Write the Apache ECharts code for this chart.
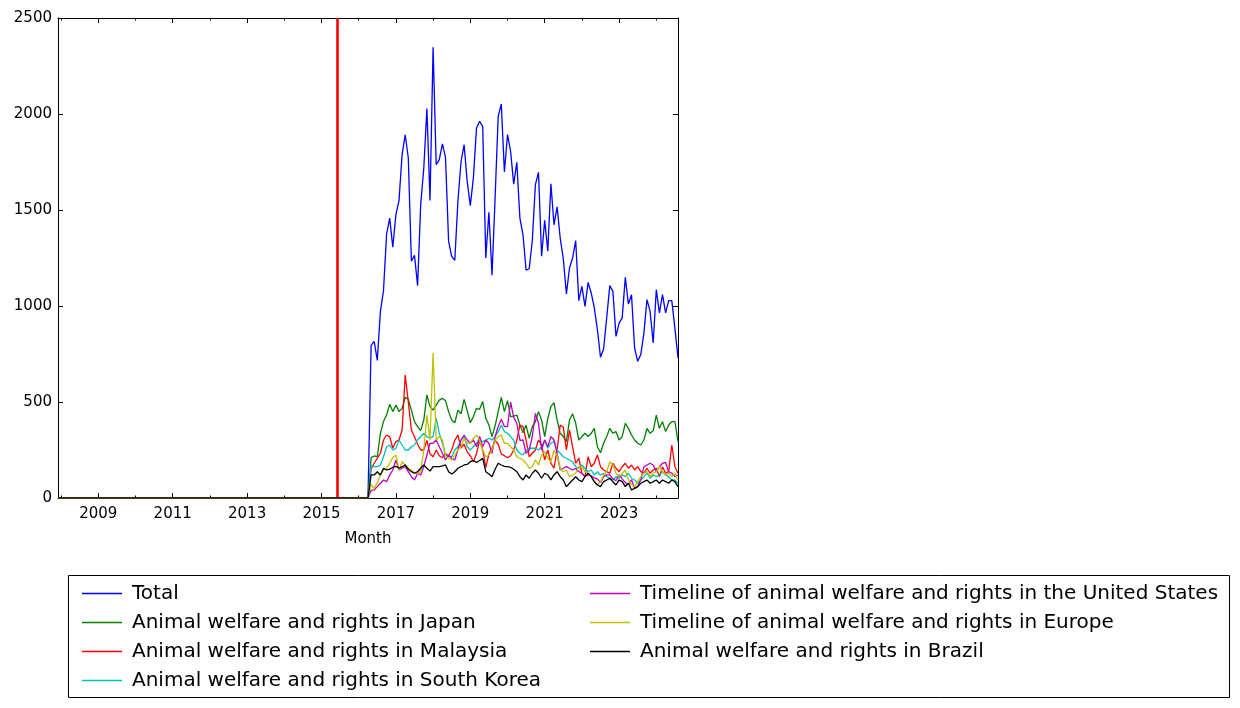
<!DOCTYPE html>
<html>
<head>
<meta charset="utf-8">
<script src="https://cdn.jsdelivr.net/npm/echarts@6/dist/echarts.min.js"></script>
<style>html,body{margin:0;padding:0;background:#fff}#c{width:1240px;height:708px}</style>
</head>
<body>
<div id="c"></div>
<script>
// ---- data (monthly pageviews) ----
const firstMonth = '2016-05';              // first month with non-zero values
const zeroMonths = ['2007-12', '2016-04']; // all series are 0 over this span
const markerMonth = '2015-06';             // red vertical line
const majorYears = [2009, 2011, 2013, 2015, 2017, 2019, 2021, 2023];
const minorYears = [2008, 2010, 2012, 2014, 2016, 2018, 2020, 2022, 2024];
const yTicks = [0, 500, 1000, 1500, 2000, 2500];

const seriesNames = [
  'Total',
  'Animal welfare and rights in Japan',
  'Animal welfare and rights in Malaysia',
  'Animal welfare and rights in South Korea',
  'Timeline of animal welfare and rights in the United States',
  'Timeline of animal welfare and rights in Europe',
  'Animal welfare and rights in Brazil'
];
const seriesColors = ['#0000ff', '#008000', '#ff0000', '#00bfbf', '#bf00bf', '#bfbf00', '#000000'];

const total = [
  795, 816, 717, 972, 1080, 1375, 1458, 1306,
  1476, 1549, 1788, 1892, 1771, 1233, 1264, 1106, 1528, 1719, 2028, 1550,
  2347, 1736, 1762, 1844, 1775, 1337, 1259, 1238, 1545, 1750, 1840, 1649,
  1523, 1667, 1927, 1962, 1936, 1250, 1488, 1160, 1562, 1988, 2052, 1698,
  1892, 1806, 1635, 1748, 1458, 1371, 1186, 1194, 1340, 1632, 1696, 1259,
  1446, 1285, 1637, 1423, 1516, 1354, 1246, 1063, 1198, 1250, 1340, 1028,
  1102, 998, 1123, 1068, 990, 877, 733, 776, 938, 1106, 1076, 842,
  911, 938, 1149, 1010, 1059, 781, 712, 747, 859, 1033, 972, 807,
  1085, 964, 1059, 964, 1028, 1028, 885, 730
];
const japan = [
  210, 219, 215, 337, 398, 432, 488, 450,
  484, 450, 467, 524, 514, 458, 398, 372, 351, 406, 537, 476,
  458, 484, 510, 519, 507, 450, 406, 392, 458, 438, 514, 455,
  392, 424, 467, 462, 502, 415, 380, 320, 375, 450, 524, 450,
  507, 424, 427, 432, 380, 340, 380, 311, 372, 398, 450, 406,
  320, 415, 476, 497, 406, 337, 320, 294, 406, 438, 389, 302,
  320, 337, 320, 337, 363, 267, 236, 285, 320, 363, 337, 346,
  302, 320, 389, 363, 328, 302, 285, 276, 302, 363, 337, 350,
  432, 363, 398, 346, 380, 398, 398, 294
];
const malaysia = [
  150, 181, 207, 233, 302, 328, 320, 259,
  294, 302, 354, 641, 500, 354, 319, 280, 250, 250, 300, 230,
  215, 250, 220, 210, 230, 220, 250, 300, 328, 260, 280, 240,
  220, 190, 230, 300, 250, 160, 230, 260, 300, 280, 230, 220,
  210, 220, 250, 300, 380, 372, 302, 215, 233, 250, 302, 276,
  198, 250, 181, 155, 250, 380, 368, 250, 354, 267, 181, 207,
  129, 111, 215, 163, 181, 224, 163, 146, 137, 129, 181, 155,
  137, 163, 181, 155, 172, 146, 163, 137, 129, 155, 129, 146,
  155, 111, 163, 129, 137, 276, 163, 129
];
const southKorea = [
  170, 163, 163, 172, 215, 267, 276, 250,
  259, 302, 276, 250, 250, 267, 276, 302, 320, 337, 320, 311,
  320, 415, 337, 285, 224, 215, 215, 250, 267, 302, 320, 267,
  250, 267, 285, 302, 294, 302, 311, 302, 320, 346, 380, 346,
  337, 320, 302, 250, 233, 224, 250, 259, 259, 259, 250, 267,
  302, 259, 285, 294, 250, 233, 215, 207, 198, 189, 163, 155,
  172, 155, 137, 146, 120, 137, 120, 129, 111, 103, 94, 111,
  103, 120, 111, 129, 103, 94, 77, 94, 111, 129, 103, 120,
  111, 120, 137, 120, 111, 94, 94, 77
];
const unitedStates = [
  40, 42, 59, 77, 94, 85, 120, 146,
  198, 146, 155, 163, 137, 111, 94, 129, 120, 163, 224, 285,
  285, 302, 267, 233, 198, 224, 207, 198, 250, 302, 328, 302,
  285, 302, 267, 320, 267, 302, 285, 233, 320, 372, 410, 372,
  372, 500, 420, 389, 300, 302, 233, 250, 320, 441, 389, 250,
  302, 267, 320, 302, 233, 146, 155, 163, 155, 146, 155, 137,
  129, 111, 120, 115, 105, 100, 80, 111, 120, 120, 100, 90,
  120, 100, 80, 70, 95, 50, 60, 95, 163, 172, 181, 172,
  137, 163, 181, 185, 137, 129, 111, 120
];
const europe = [
  70, 50, 80, 120, 146, 155, 181, 210,
  224, 146, 189, 172, 155, 146, 129, 129, 137, 250, 432, 302,
  757, 302, 320, 302, 215, 207, 198, 224, 250, 267, 310, 285,
  285, 311, 328, 302, 250, 215, 224, 250, 302, 320, 328, 285,
  285, 267, 250, 215, 207, 198, 181, 155, 163, 198, 172, 224,
  241, 207, 189, 250, 224, 155, 137, 146, 111, 120, 129, 163,
  163, 137, 129, 111, 85, 68, 85, 120, 137, 189, 172, 129,
  111, 129, 146, 94, 68, 59, 85, 111, 129, 137, 111, 129,
  137, 163, 137, 120, 129, 111, 129, 94
];
const brazil = [
  120, 120, 137, 120, 155, 146, 150, 160,
  165, 155, 163, 172, 150, 137, 129, 137, 155, 172, 155, 140,
  163, 163, 163, 167, 172, 137, 125, 137, 155, 163, 172, 175,
  189, 195, 185, 195, 207, 137, 125, 111, 150, 181, 172, 165,
  163, 160, 150, 137, 111, 94, 120, 103, 129, 146, 129, 103,
  129, 120, 94, 120, 137, 111, 94, 59, 77, 94, 111, 94,
  85, 111, 129, 111, 85, 68, 59, 85, 94, 103, 85, 68,
  94, 85, 59, 77, 42, 50, 59, 77, 85, 94, 77, 85,
  94, 77, 94, 85, 77, 94, 85, 59
];
const seriesValues = [total, japan, malaysia, southKorea, unitedStates, europe, brazil];

// ---- helpers ----
function ymToYear(ym) { const p = ym.split('-').map(Number); return p[0] + (p[1] - 1) / 12; }
function monthAt(startYm, i) {
  const p = startYm.split('-').map(Number);
  const k = p[0] * 12 + (p[1] - 1) + i;
  return Math.floor(k / 12) + (k % 12) / 12;
}
function buildData(values) {
  const out = zeroMonths.map(m => [ymToYear(m), 0]);
  values.forEach((v, i) => out.push([monthAt(firstMonth, i), v]));
  return out;
}

const FONT = 'DejaVu Sans';
const xMin = ymToYear(zeroMonths[0]);
const xMax = monthAt(firstMonth, total.length - 1);

function xAxisDef(pos, ticks, len, labels, line) {
  return {
    type: 'value', position: pos, min: xMin, max: xMax, gridIndex: 0,
    axisLine: { show: line, onZero: false, lineStyle: { color: '#000', width: 1 } },
    axisTick: { show: true, inside: true, length: len, customValues: ticks, lineStyle: { color: '#000', width: 1 } },
    axisLabel: labels ? { show: true, customValues: ticks, color: '#000', fontFamily: FONT, fontSize: 15, margin: 9, formatter: v => String(Math.round(v)) } : { show: false },
    splitLine: { show: false }
  };
}
function yAxisDef(pos, labels) {
  return {
    type: 'value', position: pos, min: yTicks[0], max: yTicks[yTicks.length - 1], interval: yTicks[1] - yTicks[0],
    axisLine: { show: true, onZero: false, lineStyle: { color: '#000', width: 1 } },
    axisTick: { show: true, inside: true, length: 5, lineStyle: { color: '#000', width: 1 } },
    axisLabel: labels ? { show: true, color: '#000', fontFamily: FONT, fontSize: 15, margin: 6, formatter: v => String(v) } : { show: false },
    splitLine: { show: false }
  };
}

const xAxes = [
  Object.assign(xAxisDef('bottom', majorYears, 5, true, true), { name: 'Month', nameLocation: 'middle', nameGap: 34, nameTextStyle: { color: '#000', fontFamily: FONT, fontSize: 15 } }),
  xAxisDef('bottom', minorYears, 2.5, false, false),
  xAxisDef('top', majorYears, 5, false, true),
  xAxisDef('top', minorYears, 2.5, false, false)
];

const series = seriesNames.map((name, i) => {
  const s = {
    name: name, type: 'line', xAxisIndex: 0, yAxisIndex: 0,
    data: buildData(seriesValues[i]),
    showSymbol: false, symbol: 'none',
    lineStyle: { color: seriesColors[i], width: 1.3 },
    itemStyle: { color: seriesColors[i] },
    z: 2 + i, animation: false
  };
  if (i === 0) {
    s.markLine = {
      silent: true, symbol: ['none', 'none'], label: { show: false }, animation: false,
      lineStyle: { color: '#ff0000', width: 2.6, type: 'solid' },
      data: [{ xAxis: ymToYear(markerMonth) }]
    };
  }
  return s;
});

function legendDef(left, names) {
  return {
    orient: 'vertical', left: left, top: 574, data: names,
    icon: 'rect', itemWidth: 40, itemHeight: 1.4, itemGap: 0,
    textStyle: { color: '#000', fontFamily: FONT, fontSize: 20, lineHeight: 29, padding: [0, 0, 0, 5] },
    selectedMode: false
  };
}

const chart = echarts.init(document.getElementById('c'), null, { renderer: 'canvas' });
chart.setOption({
  animation: false,
  backgroundColor: '#ffffff',
  grid: { left: 58, top: 18, width: 620, height: 480, show: false },
  xAxis: xAxes,
  yAxis: [yAxisDef('left', true), yAxisDef('right', false)],
  legend: [legendDef(77, seriesNames.slice(0, 4)), legendDef(585, seriesNames.slice(4))],
  graphic: [{ type: 'rect', shape: { x: 68.5, y: 575.5, width: 1161, height: 122 }, style: { fill: 'none', stroke: '#000', lineWidth: 1 }, silent: true }],
  series: series
});
</script>
</body>
</html>
